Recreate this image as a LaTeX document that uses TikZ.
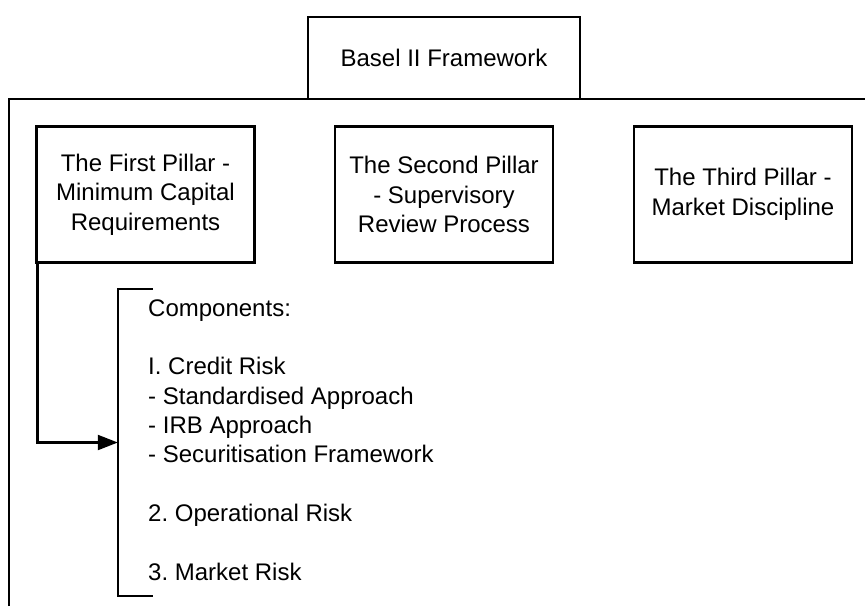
\documentclass[tikz,border=0pt]{standalone}
\usepackage{fontspec}
\setmainfont{Liberation Sans}
\usetikzlibrary{arrows.meta}
\begin{document}
\frenchspacing
\begin{tikzpicture}[x=1pt,y=1pt,
  every node/.style={inner sep=0pt},
  boxnode/.style={draw=black, line width=2.2pt, fill=white, minimum width=218pt, minimum height=136pt, align=center, font=\fontsize{24}{29.5}\selectfont\frenchspacing},
  topbox/.style={draw=black, line width=2.2pt, fill=white, minimum width=272pt, minimum height=82pt, align=center, font=\fontsize{24}{29.5}\selectfont\frenchspacing},
  conn/.style={draw=black, line width=2.2pt},
  txt/.style={align=left, font=\fontsize{24}{29.33}\selectfont\frenchspacing}
]
\useasboundingbox (0,0) rectangle (865,-606);
% outer frame
\coordinate (fbl) at (9,-606);
\coordinate (ftl) at (9,-99);
\coordinate (ftr) at (865,-99);
\draw[conn] (fbl) -- (ftl) -- (ftr);
% top box
\node[topbox] (basel) at (444,-58) {Basel II Framework};
% pillars
\node[boxnode] (p1) at (145.5,-194.5) {The First Pillar -\\Minimum Capital\\Requirements};
\node[boxnode] (p2) at (444,-194.5) {The Second Pillar\\- Supervisory\\Review Process};
\node[boxnode] (p3) at (743,-194.5) {The Third Pillar -\\Market Discipline};
% bracket
\node[minimum width=35pt, minimum height=307pt] (brk) at (135.5,-442.5) {};
\draw[conn] ([xshift=35pt]brk.north west) -- (brk.north west) -- (brk.south west) -- ([xshift=35pt]brk.south west);
% components text
\node[txt, anchor=west] (comp) at (148,-440) {Components:\\[29.33pt]I. Credit Risk\\- Standardised Approach\\- IRB Approach\\- Securitisation Framework\\[29.33pt]2. Operational Risk\\[29.33pt]3. Market Risk};
% connector
\draw[conn, -{Triangle[length=20pt,width=15pt]}] ([xshift=2pt]p1.south west) |- (brk.west);
\end{tikzpicture}
\end{document}
